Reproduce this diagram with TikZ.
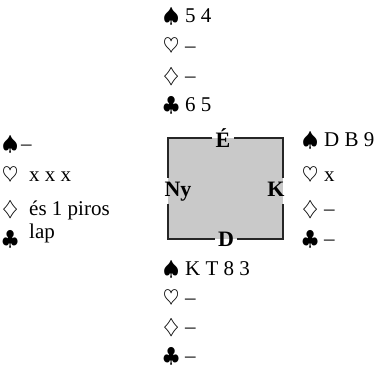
\documentclass[tikz,border=0pt]{standalone}
\usepackage{amsmath,amssymb}
\usepackage{fontspec}
\setmainfont{Liberation Serif}
\usepackage{tikz}
\usepackage{xcolor}

% suit symbol in a box of fixed width, then the cards
\newcommand{\szin}[3][22pt]{\makebox[#1][l]{$#2$}#3}

\begin{document}
\begin{tikzpicture}[x=1pt,y=-1pt,
    lap/.style={anchor=west, inner sep=0pt, text height=14pt, text depth=4pt,
                font=\fontsize{21}{24}\selectfont},
    oldal/.style={inner sep=3pt, text height=15pt, text depth=4pt,
                  font=\fontsize{22}{26}\selectfont\bfseries},
    keret/.style={line width=1.2pt, black!85}]
        \useasboundingbox (0,0) rectangle (381,369);

        % the table
        \coordinate (nw) at (168,138);
        \coordinate (ne) at (283,138);
        \coordinate (sw) at (168,239);
        \coordinate (se) at (283,239);
        \fill[black!21] (nw) rectangle (se);

        \node[oldal] (E)  at (223,142) {É};
        \node[oldal] (D)  at (226,241) {D};
        \node[oldal] (Ny) at (178,191) {Ny};
        \node[oldal] (K)  at (276,191) {K};

        % border, broken by the labels
        \draw[keret] (E.west |- nw) -- (nw) -- (nw |- Ny.north);
        \draw[keret] (nw |- Ny.south) -- (sw) -- (D.west |- sw);
        \draw[keret] (D.east |- sw) -- (se) -- (se |- K.south);
        \draw[keret] (se |- K.north) -- (ne) -- (E.east |- ne);

        % North
        \node[lap] (n1) at (163,18)  {\szin{\spadesuit}{5 4}};
        \node[lap] (n2) at (163,48)  {\szin{\heartsuit}{--}};
        \node[lap] (n3) at (163,78)  {\szin{\diamondsuit}{--}};
        \node[lap] (n4) at (163,107) {\szin{\clubsuit}{6 5}};

        % West
        \node[lap] (w1) at (2,146) {\szin[19pt]{\spadesuit}{--}};
        \node[lap] (w2) at (2,177) {\szin[27pt]{\heartsuit}{x x x}};
        \node[lap] (w3) at (2,210) {\szin[27pt]{\diamondsuit}{és 1 piros}};
        \node[lap] (w4) at (2,240) {\szin[27pt]{\clubsuit}{}};
        \node[lap] (w5) at (29,234) {lap};

        % East
        \node[lap] (e1) at (302,142) {\szin{\spadesuit}{D B 9}};
        \node[lap] (e2) at (302,177) {\szin{\heartsuit}{x}};
        \node[lap] (e3) at (302,210) {\szin{\diamondsuit}{--}};
        \node[lap] (e4) at (302,240) {\szin{\clubsuit}{--}};

        % South
        \node[lap] (s1) at (163,271) {\szin{\spadesuit}{K T 8 3}};
        \node[lap] (s2) at (163,300) {\szin{\heartsuit}{--}};
        \node[lap] (s3) at (163,329) {\szin{\diamondsuit}{--}};
        \node[lap] (s4) at (163,357) {\szin{\clubsuit}{--}};

    \end{tikzpicture}
\end{document}
